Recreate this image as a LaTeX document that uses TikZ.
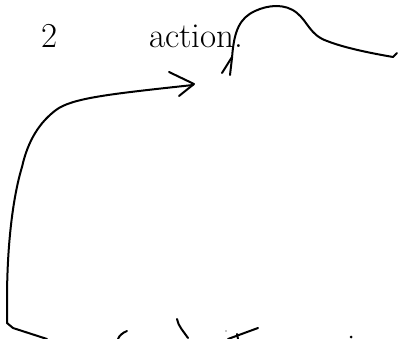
\documentclass[tikz,border=0pt]{standalone}
\usepackage{tikz}
\usetikzlibrary{calc}
\tikzset{pen/.style={line width=2pt, line cap=round, line join=round}}
\def\bigtext{\fontsize{35}{42}\selectfont}

\begin{document}
\begin{tikzpicture}[x=1pt, y=-1pt]
			%%%%% START %%%%%
			\useasboundingbox[fill=white] (0, 0) rectangle (401, 339);
			
			\node[anchor=base west, inner sep=0pt] (num) at (41, 48) {\bigtext 2};
			\node[anchor=base west, inner sep=0pt] (word) at (149, 48) {\bigtext action.};
			
			% long curve up the left side, ending in the open arrow
			\draw[pen] (47, 339) -- (13, 328) -- (7, 323) -- (7, 300)
				.. controls (7, 250) and (12, 200) .. (22, 167)
				.. controls (28, 140) and (40, 122) .. (56, 110)
				.. controls (72, 98) and (110, 94) .. (193, 85);
			\draw[pen] (169, 72) -- (194, 84) -- (179, 96);
			
			% hill from the word out to the right
			\draw[pen] (230, 75) -- (232, 58)
				.. controls (234, 30) and (240, 18) .. (255, 11)
				.. controls (268, 5) and (285, 3) .. (297, 13)
				.. controls (308, 22) and (310, 35) .. (327, 41)
				.. controls (345, 48) and (370, 53) .. (393, 57)
				-- (397, 53);
			\draw[pen] (222, 73) -- (232, 57);
			
			% marks along the bottom edge
			\draw[pen] (127, 331) .. controls (122, 333) and (119, 336) .. (118, 339);
			\draw[pen] (177, 319) .. controls (178, 326) and (184, 332) .. (188, 338);
			\draw[pen] (228, 339) -- (258, 328);
			\draw[pen] (237, 334) -- (238, 339);
			\fill (226, 331) circle (0.6);
			\fill (351, 337) circle (1.5);
			%%%%% END %%%%%
		\end{tikzpicture}
\end{document}
